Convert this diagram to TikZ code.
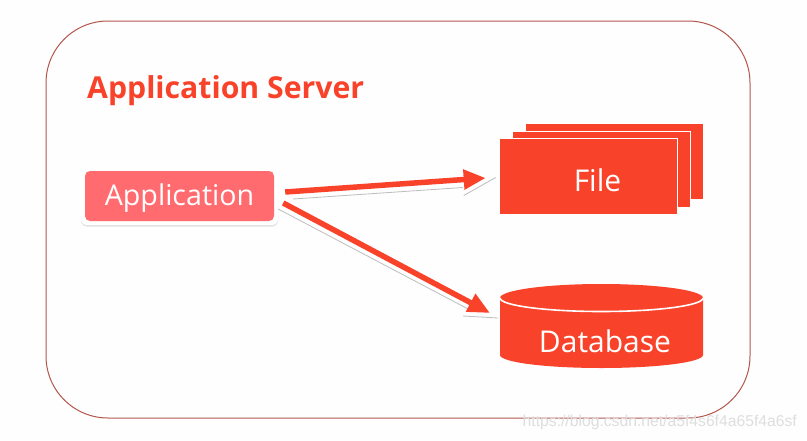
\documentclass[tikz,border=0pt]{standalone}
\usepackage{fontspec}
\setmainfont{Open Sans}
\newfontfamily\wmfont{Liberation Sans}
\usetikzlibrary{calc,arrows.meta}
\definecolor{redm}{HTML}{F9422A}
\definecolor{pinkm}{HTML}{FF6B6E}
\definecolor{framem}{HTML}{B4564C}
\definecolor{bgm}{HTML}{FEFEFE}
\definecolor{shadowm}{HTML}{BDBDBD}
\tikzset{
  frameline/.style={draw=framem,line width=1pt,rounded corners=62pt},
  filebox/.style={fill=redm,draw=white,line width=1.6pt,minimum width=178pt,minimum height=76pt,inner sep=0pt},
  appbox/.style={fill=pinkm,rounded corners=5pt,minimum width=189pt,minimum height=50pt,inner sep=0pt},
  lighttext/.style={text=white,inner sep=0pt,font=\fontsize{30}{34}\selectfont},
  redarrow/.style={draw=redm,line width=5.5pt,-{Triangle[length=22pt,width=19pt]}},
  greyline/.style={draw=shadowm,line width=.8pt}
}
\begin{document}
\begin{tikzpicture}[x=1pt,y=-1pt]
\useasboundingbox (0,0) rectangle (807,440);
\fill[bgm] (0,0) rectangle (807,440);
\draw[frameline] (46,21) rectangle (750,418);
\node[anchor=west,inner sep=0pt,text=redm,font=\bfseries\fontsize{30.2}{34}\selectfont] (title) at (87,90.5) {Application Server};

% application shadow and box
\fill[shadowm!45,rounded corners=6pt] (81,176) rectangle (278,226.5);
\fill[white,rounded corners=6pt] (81,174) rectangle (278,225);
\node[appbox] (app) at (179.5,196) {};
\node[lighttext,font=\fontsize{28.6}{34}\selectfont] (apptext) at (179.5,198) {Application};

% files
\node[filebox] (f3) at (614.5,161.5) {};
\node[filebox] (f2) at (601.5,169.5) {};
\node[filebox] (file) at (588.5,176.5) {};
\node[lighttext] (filetext) at (597.5,180) {File};

% database
\fill[redm] (500,298) -- (500,355) arc[start angle=180,end angle=360,x radius=101.5pt,y radius=13pt] -- (703,298) arc[start angle=0,end angle=180,x radius=101.5pt,y radius=14pt] -- cycle;
\draw[white,line width=1.6pt] (500,298) arc[start angle=180,end angle=360,x radius=101.5pt,y radius=13.5pt];
\node[lighttext] (db) at (605,341) {Database};

% shadows of connectors
\coordinate (fw) at (file.west);
\coordinate (dw) at (500,319);
\draw[greyline] ($(app.east)+(19,3)$) -- ($(fw)+(-36,11)$);
\draw[greyline] ($(fw)+(-35,19)$) -- ($(fw)+(-3,1)$);
\draw[greyline] ($(app.east)+(4,13)$) -- ($(dw)+(-30,-9)$);
\draw[greyline] ($(dw)+(-37,-3)$) -- ($(dw)+(-2,-1)$);

% connectors
\draw[redarrow] ($(app.east)+(11,-4)$) -- ($(fw)+(-13,1.5)$);
\draw[redarrow] ($(app.east)+(9,7)$) -- ($(dw)+(-10,-6)$);

\node[anchor=east,inner sep=0pt,text=black!13,font=\wmfont\fontsize{15.7}{18}\selectfont] (wm) at (797,422) {https://blog.csdn.net/a5f4s6f4a65f4a6sf};
\end{tikzpicture}
\end{document}
